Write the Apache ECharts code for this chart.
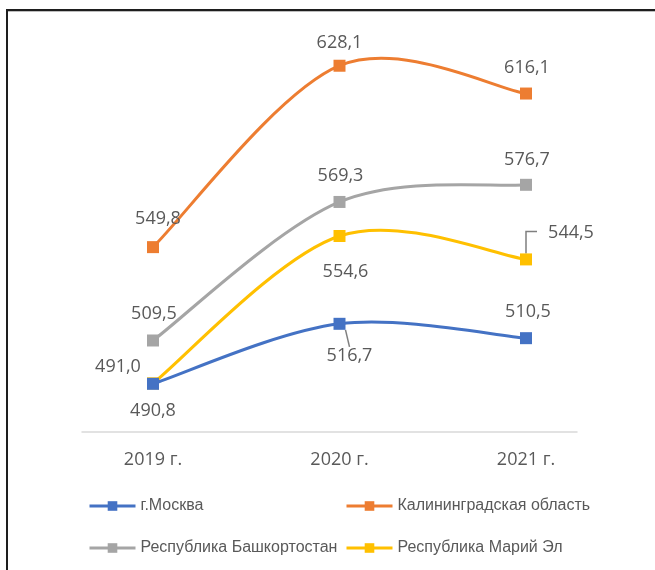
<!DOCTYPE html>
<html>
<head>
<meta charset="utf-8">
<script src="https://cdn.jsdelivr.net/npm/echarts@6/dist/echarts.min.js"></script>
<style>
  html, body { margin: 0; padding: 0; background: #fff; }
  #wrap { position: relative; width: 655px; height: 570px; overflow: hidden; }
  #chart { position: absolute; left: 0; top: 0; width: 655px; height: 570px; }
  #frame { position: absolute; left: 6px; top: 9px; width: 700px; height: 600px;
           border-left: 2px solid #1e1e1e; border-top: 2px solid #1e1e1e;
           box-shadow: inset 0 1px 0 #bdbdbd; pointer-events: none; }
</style>
</head>
<body>
<div id="wrap">
  <div id="chart"></div>
  <div id="frame"></div>
</div>
<script>
// Years on the category axis
const years = ['2019 г.', '2020 г.', '2021 г.'];

// Values per region
const moscow        = [490.8, 516.7, 510.5];
const kaliningrad   = [549.8, 628.1, 616.1];
const bashkortostan = [509.5, 569.3, 576.7];
const mariEl        = [491.0, 554.6, 544.5];

const seriesNames = ['г.Москва', 'Калининградская область', 'Республика Башкортостан', 'Республика Марий Эл'];
const seriesColors = ['#4472C4', '#ED7D31', '#A5A5A5', '#FFC000'];
const seriesValues = [moscow, kaliningrad, bashkortostan, mariEl];

// Label shifts from each marker centre, [dx, dy] per point
const labelShift = [
  [[0, 27], [10, 32], [2, -26]],
  [[5, -28], [0, -23], [1, -26]],
  [[1, -27], [1, -26], [1, -25]],
  [[-35, -16], [6, 36], [45, -27]]
];
// Straight leader line between marker and label
const leader = { '0-1': true };
// Elbow leader (up, then right) drawn next to the curve
const elbow = { '3-2': true };

const fmt = v => v.toFixed(1).replace('.', ',');
const labelFont = '"Open Sans", "Noto Sans", sans-serif';
const TENSION = 1 / 6;

// Smoothed curve: one cubic Bezier per segment (Catmull-Rom style tangents)
function curveSeries(vals, color, z, si) {
  const last = vals.length - 1;
  const clamp = k => Math.max(0, Math.min(last, k));
  return {
    type: 'custom',
    coordinateSystem: 'cartesian2d',
    silent: true,
    z: z,
    data: vals.map((v, i) => [i, v]),
    renderItem: (params, api) => {
      const i = params.dataIndex;
      const pt = k => api.coord([clamp(k), vals[clamp(k)]]);
      const children = [];
      if (i < last) {
        const p0 = pt(i - 1), p1 = pt(i), p2 = pt(i + 1), p3 = pt(i + 2);
        children.push({
          type: 'bezierCurve',
          shape: {
            x1: p1[0], y1: p1[1],
            cpx1: p1[0] + (p2[0] - p0[0]) * TENSION, cpy1: p1[1] + (p2[1] - p0[1]) * TENSION,
            cpx2: p2[0] - (p3[0] - p1[0]) * TENSION, cpy2: p2[1] - (p3[1] - p1[1]) * TENSION,
            x2: p2[0], y2: p2[1]
          },
          style: { stroke: color, lineWidth: 3, fill: null, lineCap: 'round' }
        });
      }
      if (elbow[si + '-' + i]) {
        const p = pt(i);
        children.push({
          type: 'polyline',
          z2: 5,
          shape: { points: [[p[0], p[1] - 6], [p[0], p[1] - 28], [p[0] + 11, p[1] - 28]] },
          style: { stroke: '#7f7f7f', lineWidth: 1.5, fill: null }
        });
      }
      return children.length ? { type: 'group', children: children } : null;
    }
  };
}

const markerSeries = seriesValues.map((vals, si) => ({
  name: seriesNames[si],
  type: 'line',
  symbol: 'rect',
  symbolSize: 12,
  z: 20 - si,
  lineStyle: { width: 3, color: seriesColors[si], opacity: 0 },
  itemStyle: { color: seriesColors[si] },
  label: {
    show: true,
    position: 'inside',
    color: '#595959',
    fontSize: 18,
    fontFamily: labelFont,
    formatter: p => fmt(p.value)
  },
  labelLine: { show: false },
  labelLayout: p => ({ dx: labelShift[si][p.dataIndex][0], dy: labelShift[si][p.dataIndex][1] }),
  data: vals.map((v, di) => leader[si + '-' + di]
    ? { value: v, labelLine: { show: true, lineStyle: { color: '#7f7f7f', width: 1.5, opacity: 1 } } }
    : v)
}));

const curves = seriesValues.map((vals, si) => curveSeries(vals, seriesColors[si], 10 - si, si));

const legendBase = {
  orient: 'horizontal',
  padding: 0,
  itemWidth: 46,
  itemHeight: 12,
  itemGap: 0,
  lineStyle: { opacity: 1, width: 3 },
  textStyle: { color: '#595959', fontSize: 16, fontFamily: '"Liberation Sans", Arial, sans-serif' }
};
const legendPos = [[88, 498], [345, 498], [88, 540], [345, 540]];

const chart = echarts.init(document.getElementById('chart'), null, { renderer: 'canvas' });
chart.setOption({
  backgroundColor: '#ffffff',
  animation: false,
  grid: [
    { left: 153, right: 129, top: 15, bottom: 138 },
    { left: 82, right: 78, top: 15, bottom: 138 }
  ],
  xAxis: [
    {
      type: 'category', data: years, boundaryGap: false, gridIndex: 0,
      axisLine: { show: false }, axisTick: { show: false },
      axisLabel: { color: '#595959', fontSize: 18, fontFamily: labelFont, margin: 19 }
    },
    {
      type: 'value', gridIndex: 1, min: 0, max: 1,
      axisLine: { show: true, onZero: false, lineStyle: { color: '#d9d9d9', width: 1.5 } },
      axisTick: { show: false }, axisLabel: { show: false }, splitLine: { show: false }
    }
  ],
  yAxis: [
    { type: 'value', min: 470, max: 650, gridIndex: 0, show: false },
    { type: 'value', min: 0, max: 1, gridIndex: 1, show: false }
  ],
  legend: seriesNames.map((n, i) => Object.assign({}, legendBase, {
    data: [n], left: legendPos[i][0], top: legendPos[i][1]
  })),
  series: curves.concat(markerSeries)
});
</script>
</body>
</html>
